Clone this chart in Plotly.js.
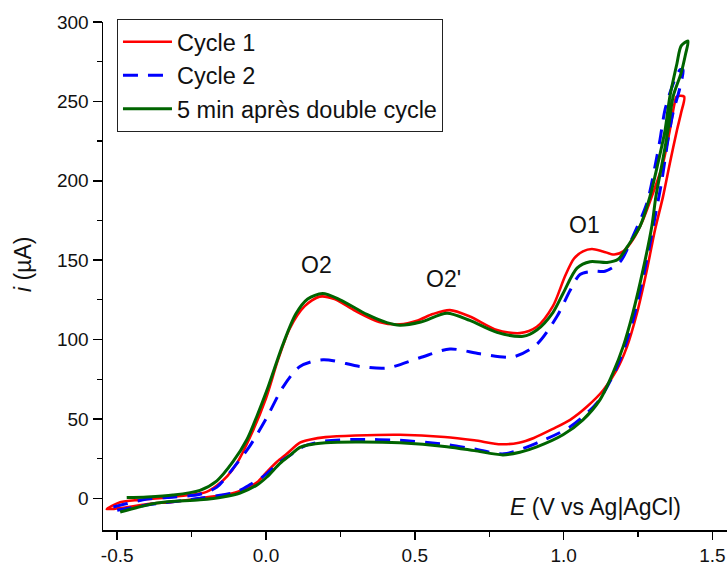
<!DOCTYPE html>
<html>
<head>
<meta charset="utf-8">
<script src="https://cdn.plot.ly/plotly-3.0.1.min.js"></script>
<style>html,body{margin:0;padding:0;background:#fff;}#chart{width:727px;height:565px;}</style>
</head>
<body>
<div id="chart"></div>
<script>
// Cycle 1 (red)
const cycle1E = [-0.535,-0.49,-0.423,-0.333,-0.255,-0.2,-0.165,-0.13,-0.098,-0.05,0.0,0.04,0.08,0.13,0.18,0.23,0.3,0.38,0.45,0.51,0.56,0.618,0.685,0.776,0.853,0.91,0.964,1.005,1.035,1.065,1.095,1.132,1.17,1.2,1.233,1.267,1.3,1.334,1.357,1.372,1.38,1.405,
  1.395,1.381,1.357,1.334,1.307,1.28,1.247,1.213,1.179,1.133,1.078,1.022,0.964,0.9,0.85,0.79,0.7,0.6,0.45,0.3,0.2,0.15,0.114,0.07,0.037,0.0,-0.03,-0.09,-0.145,-0.222,-0.313,-0.39,-0.48,-0.535];
const cycle1I = [-6.8,-2.5,-1,0.5,2,4,8,14,22,40,63,87,107,121,127,125.5,118,111,109.5,112,116,118.5,114.5,106,104,108,121,140,151,155.5,157,155.5,153.5,155.5,163,175.5,192,211,232,248,253,253,
  243,232,211,190,169,144,117,95.5,81,68,57.6,49.4,43.7,38,35,34,36.5,38.6,40,39.5,38.5,37,35,28,23,16,10,4.5,2,0,-2.3,-3.5,-6,-6.8];

// Cycle 2 (blue dashed)
const cycle2E = [-0.513,-0.47,-0.4,-0.333,-0.222,-0.165,-0.11,-0.054,0.003,0.057,0.114,0.192,0.316,0.406,0.517,0.618,0.719,0.83,0.91,0.978,1.022,1.055,1.099,1.139,1.19,1.233,1.28,1.307,1.324,1.341,1.37,1.392,1.401,
  1.39,1.368,1.35,1.33,1.305,1.275,1.24,1.205,1.165,1.112,1.022,0.92,0.8,0.7,0.6,0.45,0.3,0.2,0.13,0.08,0.04,0.0,-0.05,-0.1,-0.222,-0.39,-0.5];
const cycle2I = [-5.5,-3.5,-0.5,0.5,2.5,7,19,33,51,70,83,87.3,83,82,88.5,94,91,89,97,114.6,131,141,143,143,149,165,186,209,226,245,262,270,270,
  258,243,225,200,175,146,117,95,77,60,45,35.6,28,31,34,36.5,37,36,33,27,22,15,9,4,0,-4,-7.5];

// 5 min après double cycle (green)
const afterE = [-0.468,-0.4,-0.313,-0.222,-0.165,-0.111,-0.064,-0.03,0.003,0.057,0.1,0.14,0.19,0.249,0.339,0.406,0.45,0.52,0.608,0.685,0.776,0.864,0.91,0.964,0.998,1.045,1.089,1.146,1.183,1.216,1.257,1.29,1.317,1.341,1.357,1.381,1.395,1.418,
  1.41,1.395,1.368,1.351,1.331,1.31,1.297,1.267,1.233,1.2,1.166,1.122,1.065,0.998,0.91,0.853,0.796,0.7,0.608,0.45,0.3,0.2,0.14,0.114,0.08,0.047,0.003,-0.03,-0.087,-0.145,-0.222,-0.366,-0.49];
const afterI = [0.4,0.8,2,5,11,23,37,52,68,97,116,125.5,129,125,115.8,110.6,109,111,116.6,112,104.5,102,106,117,129,145,149,148.5,150.5,159,171.5,190,211,232,253,274,285,288,
  280,268,253,232,211,190,172,144,117,95.5,79,62,49.4,40,32.4,29,27.3,30,32.5,35,35.5,35,33.5,32,27,22,13.4,8.4,3.3,0.8,-1,-3,-8.7];

const seriesNames = ["Cycle 1", "Cycle 2", "5 min après double cycle"];
const xTicks = [-0.5, 0.0, 0.5, 1.0, 1.5];
const xTickText = ["-0.5", "0.0", "0.5", "1.0", "1.5"];
const yTicks = [0, 50, 100, 150, 200, 250, 300];
const peakLabels = ["O2", "O2'", "O1"];
const peakE = [0.171, 0.598, 1.069];
const peakI = [147, 138, 172];

const FONT = "Arial, 'Liberation Sans', sans-serif";
const LABEL_SIZE = 23;

const traces = [
  {x: cycle1E, y: cycle1I, name: seriesNames[0], mode: "lines",
   line: {color: "#ff0000", width: 2.6, shape: "spline", smoothing: 0.8}},
  {x: cycle2E, y: cycle2I, name: seriesNames[1], mode: "lines",
   line: {color: "#0000ff", width: 3, dash: "15px,10px", shape: "spline", smoothing: 0.8}},
  {x: afterE, y: afterI, name: seriesNames[2], mode: "lines",
   line: {color: "#006400", width: 3, shape: "spline", smoothing: 0.8}}
];

const annotations = peakLabels.map((t, k) => ({
  x: peakE[k], y: peakI[k], xref: "x", yref: "y", text: t, showarrow: false,
  font: {family: FONT, size: LABEL_SIZE, color: "#111"}
}));
annotations.push({
  x: 0.9295, y: -5.5, xref: "paper", yref: "y", xanchor: "right", yanchor: "middle",
  text: "<i>E</i> (V vs Ag|AgCl)", showarrow: false, font: {family: FONT, size: LABEL_SIZE, color: "#111"}
});
annotations.push({
  x: -0.128, y: 0.522, xref: "paper", yref: "paper", xanchor: "center", yanchor: "middle",
  text: "<i>i</i> (µA)", textangle: -90, showarrow: false, font: {family: FONT, size: LABEL_SIZE, color: "#111"}
});

const layout = {
  width: 727, height: 565,
  margin: {l: 103, r: 0, t: 22, b: 35, pad: 0},
  paper_bgcolor: "#fff", plot_bgcolor: "#fff",
  font: {family: FONT, size: 19, color: "#111"},
  showlegend: true,
  legend: {
    x: 0.0224, y: 1.006, xanchor: "left", yanchor: "top",
    bgcolor: "#fff", bordercolor: "#222", borderwidth: 1,
    font: {family: FONT, size: 23.5, color: "#111"},
    itemwidth: 49, tracegroupgap: 0
  },
  xaxis: {
    range: [-0.5477, 1.549], showgrid: false, zeroline: false,
    showline: true, linecolor: "#000", linewidth: 1.5,
    ticks: "outside", ticklen: 8, tickwidth: 1.5, tickcolor: "#000",
    tickvals: xTicks, ticktext: xTickText,
    tickfont: {family: FONT, size: 19, color: "#111"},
    minor: {dtick: 0.25, tick0: 0, ticks: "outside", ticklen: 5, tickwidth: 1.2, tickcolor: "#000", showgrid: false}
  },
  yaxis: {
    range: [-20, 300], showgrid: false, zeroline: false,
    showline: true, linecolor: "#000", linewidth: 1.5,
    ticks: "outside", ticklen: 9, tickwidth: 1.5, tickcolor: "#000",
    tickvals: yTicks,
    tickfont: {family: FONT, size: 19, color: "#111"},
    minor: {dtick: 25, tick0: 0, ticks: "outside", ticklen: 5, tickwidth: 1.2, tickcolor: "#000", showgrid: false}
  },
  annotations: annotations
};

Plotly.newPlot("chart", traces, layout, {displayModeBar: false, staticPlot: true});
</script>
</body>
</html>
